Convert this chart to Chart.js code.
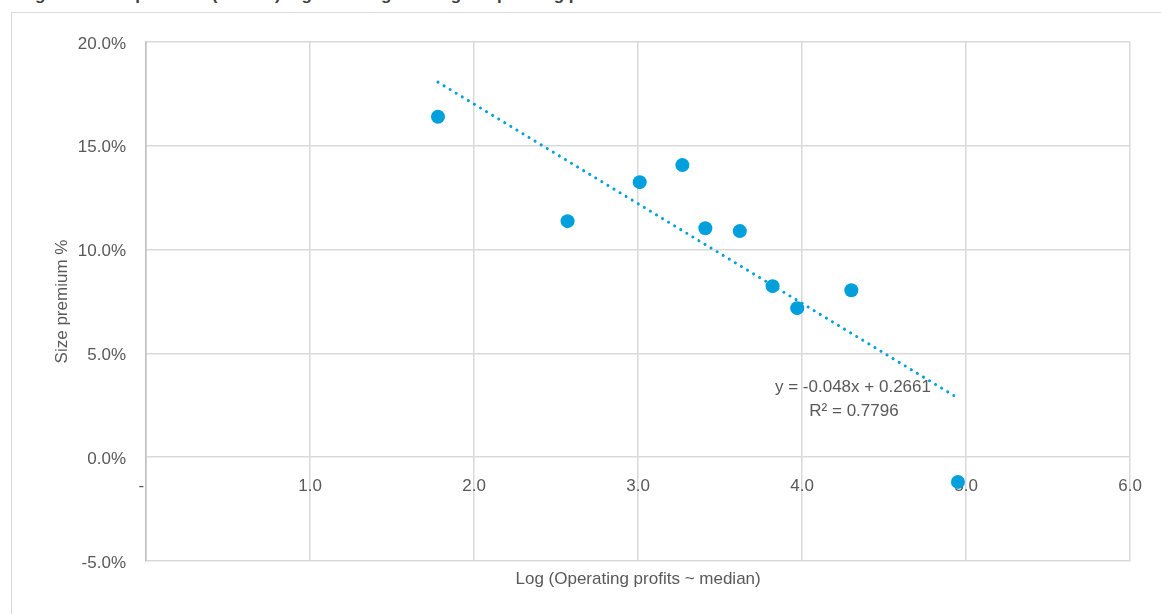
<!DOCTYPE html>
<html>
<head>
<meta charset="utf-8">
<script src="https://cdn.jsdelivr.net/npm/chart.js@4.4.1/dist/chart.umd.min.js"></script>
<style>
  html, body { margin: 0; padding: 0; background: #fff; overflow: hidden; }
  body { width: 1161px; height: 614px; position: relative; font-family: "Liberation Sans", Arial, sans-serif; }
  .fig-title { position: absolute; left: 20px; top: -14px; font-weight: bold; font-size: 17px; line-height: 17px; color: #404040; white-space: nowrap; }
  .frame { position: absolute; left: 11px; top: 12px; width: 1180px; height: 640px; border: 1.5px solid #d9d9d9; box-sizing: border-box; }
  .chart-box { position: absolute; left: 0; top: 0; width: 1161px; height: 614px; }
</style>
</head>
<body>
<div class="fig-title">Figure 4: Size premium (deciles) regressed against log of operating profits</div>
<div class="frame"></div>
<div class="chart-box"><canvas id="sizeChart"></canvas></div>
<script>
// values
const logProfits = [1.78, 2.57, 3.01, 3.27, 3.41, 3.62, 3.82, 3.97, 4.30, 4.95];
const sizePremium = [0.164, 0.1137, 0.1325, 0.1407, 0.1103, 0.1089, 0.0824, 0.0718, 0.0804, -0.0119];
const trendSlope = -0.048;
const trendIntercept = 0.2661;
const rSquared = 0.7796;
const xTicks = [0, 1, 2, 3, 4, 5, 6];
const yTicks = [-0.05, 0, 0.05, 0.10, 0.15, 0.20];
const xTitle = 'Log (Operating profits ~ median)';
const yTitle = 'Size premium %';

const blue = '#00a0dc';
const textColor = '#595959';
const gridColor = '#d9d9d9';
const fontFamily = '"Liberation Sans", Arial, sans-serif';

// where the equation label sits, in data units
const eqAnchor = { x: 4.31, y: 0.0337 };

const xMin = Math.min(...logProfits);
const xMax = Math.max(...logProfits);
const trendPoints = [xMin, xMax].map(x => ({ x: x, y: trendSlope * x + trendIntercept }));
const scatterPoints = logProfits.map((x, i) => ({ x: x, y: sizePremium[i] }));

const chartTexts = {
    id: 'chartTexts',
    afterDraw(chart) {
        const { ctx, chartArea, scales } = chart;
        ctx.save();
        ctx.fillStyle = textColor;
        ctx.font = '17px ' + fontFamily;
        ctx.textAlign = 'center';
        ctx.textBaseline = 'middle';
        ctx.fillText(xTitle, (chartArea.left + chartArea.right) / 2, chartArea.bottom + 18);

        const ex = scales.x.getPixelForValue(eqAnchor.x);
        const ey = scales.y.getPixelForValue(eqAnchor.y);
        ctx.fillText('y = ' + trendSlope + 'x + ' + trendIntercept, ex, ey);
        ctx.fillText('R\u00b2 = ' + rSquared, ex + 1, ey + 24);
        ctx.restore();
    }
};

Chart.defaults.font.family = fontFamily;

new Chart(document.getElementById('sizeChart').getContext('2d'), {
    type: 'scatter',
    data: {
        datasets: [{
            type: 'line',
            label: 'Trend',
            data: trendPoints,
            borderColor: blue,
            borderWidth: 3,
            borderDash: [0.1, 7],
            borderCapStyle: 'round',
            pointRadius: 0,
            fill: false
        }, {
            label: 'Size premium',
            data: scatterPoints,
            backgroundColor: blue,
            borderWidth: 0,
            pointRadius: 7
        }]
    },
    options: {
        responsive: true,
        maintainAspectRatio: false,
        animation: false,
        layout: { padding: { left: 0, right: 30, top: 42, bottom: 53 } },
        plugins: {
            legend: { display: false },
            tooltip: { enabled: false }
        },
        scales: {
            x: {
                type: 'linear',
                min: 0,
                max: 6,
                position: { y: 0 },
                afterBuildTicks: function(scale) {
                    scale.ticks = xTicks.map(v => ({ value: v }));
                },
                grid: { color: gridColor, lineWidth: 1.5, drawTicks: false },
                border: { display: false },
                ticks: {
                    color: textColor,
                    font: { size: 17 },
                    padding: 19,
                    maxRotation: 0,
                    callback: function(value) {
                        // zero shows as a dash, sitting just left of the axis
                        return value === 0 ? '-  ' : value.toFixed(1);
                    }
                }
            },
            y: {
                type: 'linear',
                min: -0.05,
                max: 0.2,
                afterBuildTicks: function(scale) {
                    scale.ticks = yTicks.map(v => ({ value: v }));
                },
                afterFit: function(scale) {
                    scale.width = 146;
                },
                grid: { color: gridColor, lineWidth: 1.5, drawTicks: false },
                border: { display: true, color: '#bfbfbf', width: 1.5 },
                ticks: {
                    color: textColor,
                    font: { size: 17 },
                    padding: 20,
                    labelOffset: 2,
                    callback: function(value) {
                        const v = Math.abs(value) < 1e-9 ? 0 : value;
                        return (v * 100).toFixed(1) + '%';
                    }
                },
                title: {
                    display: true,
                    text: yTitle,
                    color: textColor,
                    font: { size: 17 },
                    padding: { top: 52, bottom: 0 }
                }
            }
        }
    },
    plugins: [chartTexts]
});
</script>
</body>
</html>
